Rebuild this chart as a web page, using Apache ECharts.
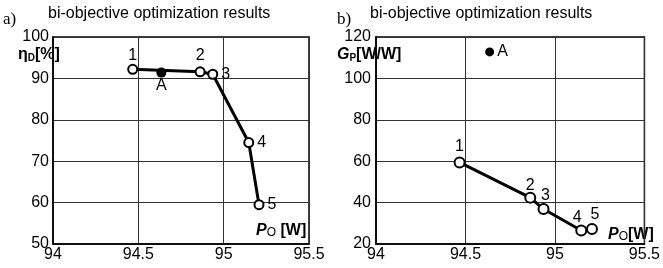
<!DOCTYPE html>
<html><head><meta charset="utf-8">
<script src="https://cdn.jsdelivr.net/npm/echarts@6/dist/echarts.min.js"></script>
<style>html,body{margin:0;padding:0;background:#fff}#c{width:663px;height:268px}</style>
</head><body><div id="c"></div>
<script>
// Data
const pointNames = ['1','2','3','4','5'];
const powerOut = [94.467, 94.862, 94.936, 95.147, 95.207];      // P_O [W]
const efficiency = [92.2, 91.6, 91.0, 74.5, 59.5];              // eta_D [%]
const powerGain = [59.4, 42.4, 36.9, 26.5, 27.3];               // G_P [W/W]
const pointA_power = 94.635;
const pointA_eff = 91.4;
const pointA_gain = 112.8;
const xTicks = [94, 94.5, 95, 95.5];
const yTicksA = [50, 60, 70, 80, 90, 100];
const yTicksB = [20, 40, 60, 80, 100, 120];

// label placement (style)
const labPosA = ['top','top','right','right','right'];
const labOffA = [[0,3],[0,0],[0,0],[0,0],[0,0]];
const labPosB = ['top','top','top','top','top'];
const labOffB = [[0,1],[0,5],[2,4],[-4,4],[3,3]];

const FONT = 'Arial, "Liberation Sans", sans-serif';
const chart = echarts.init(document.getElementById('c'), null, {renderer:'canvas'});

function gridCfg(left, right){ return {left:left, right:right, top:37, bottom:24, show:true, borderColor:'#000', borderWidth:1.5, containLabel:false}; }
function xAx(i){ return {type:'value', gridIndex:i, min:xTicks[0], max:xTicks[xTicks.length-1], interval:0.5,
  axisLine:{show:true, lineStyle:{color:'#000', width:1.5}}, axisTick:{show:false},
  axisLabel:{color:'#000', fontSize:16, fontFamily:FONT, margin:3, showMinLabel:true, showMaxLabel:true},
  splitLine:{show:true, lineStyle:{color:'#333', width:1}}}; }
function yAx(i, ticks, margin){ return {type:'value', gridIndex:i, min:ticks[0], max:ticks[ticks.length-1], interval:ticks[1]-ticks[0],
  axisLine:{show:true, lineStyle:{color:'#000', width:1.5}}, axisTick:{show:false},
  axisLabel:{color:'#000', fontSize:16, fontFamily:FONT, margin:margin},
  splitLine:{show:true, lineStyle:{color:'#333', width:1}}}; }

const pointStyle = {color:'#fff', borderColor:'#000', borderWidth:2, opacity:1};
const lbl = {show:true, color:'#000', fontSize:16, fontFamily:FONT, distance:3, formatter: p => p.data.name};

const dataA = powerOut.map((x,i)=>({value:[x, efficiency[i]], name:pointNames[i], label:{position:labPosA[i], offset:labOffA[i]}}));
const dataB = powerOut.map((x,i)=>({value:[x, powerGain[i]], name:pointNames[i], label:{position:labPosB[i], offset:labOffB[i]}}));

chart.setOption({
  animation:false,
  backgroundColor:'#fff',
  grid:[gridCfg(53, 354), gridCfg(376, 10)],
  xAxis:[xAx(0), xAx(1)],
  yAxis:[yAx(0, yTicksA, 4), yAx(1, yTicksB, 5)],
  series:[
    {type:'line', xAxisIndex:0, yAxisIndex:0, data:dataA, symbol:'circle', symbolSize:9,
     lineStyle:{color:'#000', width:3}, itemStyle:pointStyle, label:lbl, z:3},
    {type:'scatter', xAxisIndex:0, yAxisIndex:0, data:[{value:[pointA_power, pointA_eff], name:'A'}], symbol:'circle', symbolSize:10,
     itemStyle:{color:'#000', opacity:1}, label:Object.assign({}, lbl, {position:'bottom', distance:2, offset:[0,-2]}), z:4},
    {type:'line', xAxisIndex:1, yAxisIndex:1, data:dataB, symbol:'circle', symbolSize:10,
     lineStyle:{color:'#000', width:3}, itemStyle:pointStyle, label:lbl, z:3},
    {type:'scatter', xAxisIndex:1, yAxisIndex:1, data:[{value:[pointA_power, pointA_gain], name:'A'}], symbol:'circle', symbolSize:9,
     itemStyle:{color:'#000', opacity:1}, label:Object.assign({}, lbl, {position:'right', distance:3}), z:4}
  ],
  graphic:[
    {type:'text', left:3, top:11, style:{text:'a)', font:'17px "Liberation Serif", "Times New Roman", serif', fill:'#000'}},
    {type:'text', left:48, top:6, style:{text:'bi-objective optimization results', font:'16px '+FONT, fill:'#000'}},
    {type:'text', left:337, top:11, style:{text:'b)', font:'17px "Liberation Serif", "Times New Roman", serif', fill:'#000'}},
    {type:'text', left:370, top:6, style:{text:'bi-objective optimization results', font:'16px '+FONT, fill:'#000'}},
    {type:'text', left:18, top:47, style:{text:'{b|η}{s|D}{b|[%]}', rich:{
      b:{fontSize:16, fontWeight:'bold', fontFamily:FONT, color:'#000'},
      s:{fontSize:10, fontWeight:'bold', fontFamily:FONT, color:'#000', padding:[6,0,0,0]}}}},
    {type:'text', left:337, top:47, style:{text:'{i|G}{s|P}{b|[W/W]}', rich:{
      i:{fontSize:16, fontWeight:'bold', fontStyle:'italic', fontFamily:FONT, color:'#000'},
      b:{fontSize:16, fontWeight:'bold', fontFamily:FONT, color:'#000'},
      s:{fontSize:10, fontWeight:'bold', fontFamily:FONT, color:'#000', padding:[6,0,0,0]}}}},
    {type:'text', left:256, top:223, style:{text:'{i|P}{s|O}{b| [W]}', rich:{
      i:{fontSize:16, fontWeight:'bold', fontStyle:'italic', fontFamily:FONT, color:'#000'},
      b:{fontSize:16, fontWeight:'bold', fontFamily:FONT, color:'#000'},
      s:{fontSize:12, fontFamily:FONT, color:'#000', padding:[4,0,0,0]}}}},
    {type:'text', left:608, top:227, style:{text:'{i|P}{s|O}{b|[W]}', rich:{
      i:{fontSize:16, fontWeight:'bold', fontStyle:'italic', fontFamily:FONT, color:'#000'},
      b:{fontSize:16, fontWeight:'bold', fontFamily:FONT, color:'#000'},
      s:{fontSize:12, fontFamily:FONT, color:'#000', padding:[4,0,0,0]}}}}
  ]
});
</script></body></html>
